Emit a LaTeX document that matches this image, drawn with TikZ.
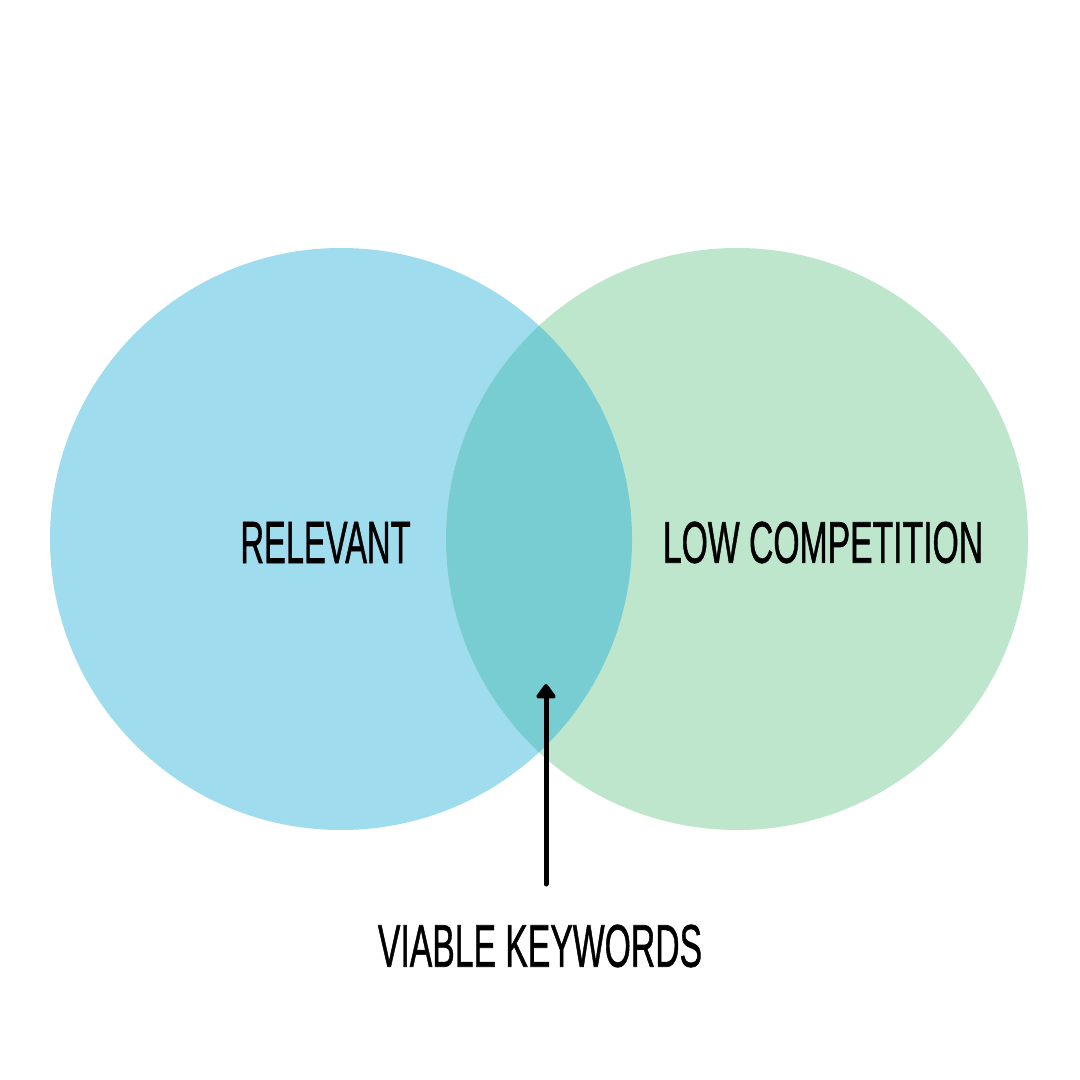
\documentclass[tikz,border=0pt]{standalone}
\usepackage{fontspec}
\usepackage{graphicx}
\setmainfont{Liberation Sans}
\newfontfamily\medfont{Liberation Sans}[FakeBold=1.2]
\usetikzlibrary{arrows.meta}
\definecolor{cblue}{HTML}{9EDCEE}
\definecolor{cgreen}{HTML}{BDE6CD}
\definecolor{cmix}{HTML}{78CDD3}
\tikzset{
  lbl/.style={inner sep=0pt, anchor=center, text=black, font=\medfont},
}
\newcommand{\fitlabel}[3]{\resizebox{#1}{#2}{#3}}
\begin{document}
\begin{tikzpicture}[x=0.01cm,y=-0.01cm]
\path[use as bounding box, fill=white] (0,0) rectangle (1080,1080);
\fill[cblue] (341,539) circle (291);
\fill[cgreen] (737,539) circle (291);
\begin{scope}
\clip (341,539) circle (291);
\fill[cmix] (737,539) circle (291);
\end{scope}
\node[lbl] (rel) at (325.5,542.5) {\fitlabel{1.70cm}{0.41cm}{\medfont RELEVANT}};
\node[lbl] (low) at (823,542.5) {\fitlabel{3.20cm}{0.41cm}{\medfont LOW COMPETITION}};
\node[lbl] (via) at (540,946) {\fitlabel{3.24cm}{0.42cm}{\medfont VIABLE KEYWORDS}};
\coordinate (tail) at (546,884);
\coordinate (head) at (546,684);
\draw[line width=0.05cm, line cap=round, -{Triangle[width=0.22cm,length=0.16cm,round]}] (tail) -- (head);
\end{tikzpicture}
\end{document}
